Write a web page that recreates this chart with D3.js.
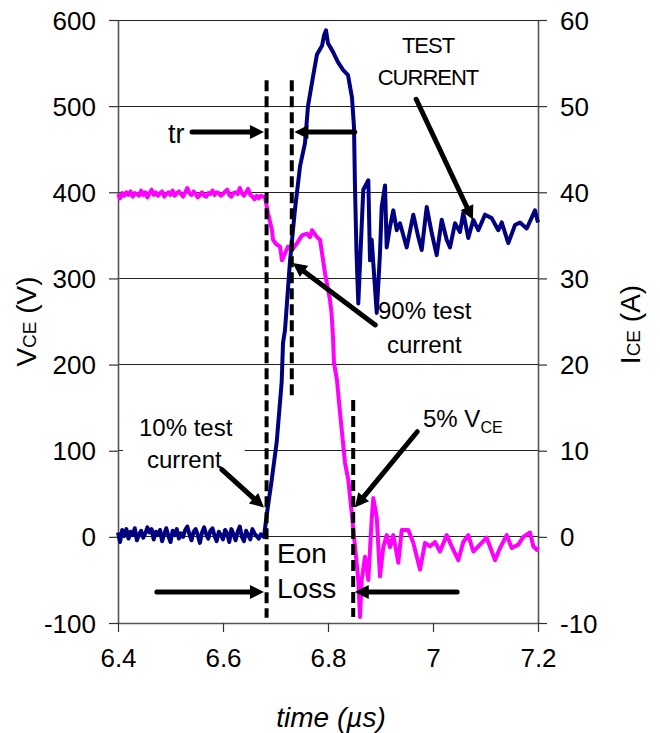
<!DOCTYPE html>
<html><head><meta charset="utf-8">
<script src="https://cdn.jsdelivr.net/npm/d3@7"></script>
<style>
body{margin:0;background:#fff}
svg{display:block}
text{font-family:"Liberation Sans",Arial,Helvetica,sans-serif;fill:#000}
</style>
</head><body>
<svg id="c" width="660" height="733"></svg>
<script>
// ---------- data ----------
const xTicks = [6.4, 6.6, 6.8, 7.0, 7.2];
const xTickLabels = ["6.4", "6.6", "6.8", "7", "7.2"];
const vTicks = [-100, 0, 100, 200, 300, 400, 500, 600];
const iTicks = [-10, 0, 10, 20, 30, 40, 50, 60];

// V_CE (V) vs time (µs)
const vce = [
[6.400,398],[6.404,393],[6.408,399],[6.412,396],[6.416,400],[6.420,397],[6.424,401],[6.428,395],
[6.432,399],[6.436,398],[6.440,396],[6.444,402],[6.448,397],[6.452,400],[6.456,394],[6.460,399],
[6.464,403],[6.468,397],[6.472,400],[6.476,396],[6.480,399],[6.484,401],[6.488,395],[6.492,398],
[6.496,400],[6.500,397],[6.504,402],[6.508,396],[6.512,399],[6.516,401],[6.520,398],[6.524,395],
[6.528,400],[6.532,405],[6.536,399],[6.540,397],[6.544,401],[6.548,398],[6.552,394],[6.556,397],
[6.560,400],[6.564,396],[6.568,395],[6.572,399],[6.576,398],[6.580,402],[6.584,397],[6.588,400],
[6.592,399],[6.596,396],[6.600,398],[6.604,401],[6.608,403],[6.612,397],[6.616,395],[6.620,399],
[6.624,400],[6.628,398],[6.632,405],[6.636,399],[6.640,396],[6.644,400],[6.648,404],[6.652,397],
[6.656,395],[6.660,392],[6.664,396],[6.668,393],[6.672,396],
[6.6800,394],[6.6857,376],[6.6933,356],[6.6952,345],[6.7010,340],[6.7086,337],[6.7124,321],
[6.7181,329],[6.7238,337],[6.7314,333],[6.7410,341],[6.7505,350],[6.7600,352],[6.7657,348],
[6.7695,356],[6.7790,348],[6.7848,345],[6.7943,306],[6.8038,275],[6.8067,260],[6.8095,232],
[6.8114,202],[6.8171,182],[6.8229,144],[6.8324,86],[6.8387,66],[6.8451,28],[6.8514,-11],
[6.8577,-50],[6.8610,-93],[6.8642,-50],[6.8705,-23],[6.8768,-50],[6.8832,20],[6.8863,45],
[6.8928,23],[6.8990,-46],[6.9053,-12],[6.9118,2],[6.9181,-12],[6.9244,2],[6.9339,-30],
[6.9404,8],[6.9530,8],[6.9625,-7],[6.9752,-38],[6.9848,-7],[6.9943,-11],[7.0038,-6],
[7.0133,-17],[7.0261,2],[7.0356,-11],[7.0482,-27],[7.0577,-6],[7.0672,2],[7.0768,-17],
[7.0895,-9],[7.1023,-1],[7.1181,-27],[7.1276,-13],[7.1404,2],[7.1499,-13],[7.1625,-9],
[7.1720,0],[7.1848,5],[7.1911,-11],[7.1975,-15],[7.2000,-12]
];

// I_CE (A) vs time (µs)
const ice = [
[6.400,0.5],[6.404,-0.6],[6.408,0.8],[6.412,0.1],[6.416,0.9],[6.420,-0.2],[6.424,0.6],[6.428,0.2],
[6.432,1.0],[6.436,-0.4],[6.440,0.3],[6.444,0.7],[6.448,-0.1],[6.452,0.4],[6.456,1.1],[6.460,0.5],
[6.464,0.9],[6.468,-0.3],[6.472,0.6],[6.476,0.2],[6.480,0.8],[6.484,-0.5],[6.488,0.3],[6.492,1.0],
[6.496,0.1],[6.500,-0.6],[6.504,0.7],[6.508,0.2],[6.512,0.9],[6.516,-0.2],[6.520,0.4],[6.524,0.0],
[6.528,0.8],[6.532,1.2],[6.536,0.3],[6.540,-0.4],[6.544,0.6],[6.548,0.9],[6.552,0.2],[6.556,-0.7],
[6.560,0.5],[6.564,1.1],[6.568,0.3],[6.572,-0.2],[6.576,0.7],[6.580,1.0],[6.584,0.1],[6.588,-0.5],
[6.592,0.6],[6.596,0.2],[6.600,-0.3],[6.604,0.8],[6.608,0.4],[6.612,-0.6],[6.616,0.9],[6.620,0.3],
[6.624,-0.4],[6.628,0.6],[6.632,1.2],[6.636,0.0],[6.640,-0.5],[6.644,0.7],[6.648,0.2],[6.652,-0.3],
[6.656,0.9],[6.660,0.4],[6.664,0.1],[6.668,-0.2],[6.672,0.3],[6.6781,0.0],
[6.6832,2.5],[6.6928,6.6],[6.7023,11],[6.7118,18],[6.7143,22.5],[6.7181,24],[6.7276,32],
[6.7371,38],[6.7467,43],[6.7562,45.7],[6.7619,50],[6.7714,53.4],[6.7790,56],[6.7886,57],
[6.7924,58.2],[6.7962,58.8],[6.8000,57.3],[6.8095,56.3],[6.8190,55.1],[6.8286,54.2],[6.8381,53.6],
[6.8457,51],[6.8495,47.6],[6.8514,40.6],[6.8543,33],[6.8577,27.1],[6.8672,40.3],[6.8768,41.4],
[6.8800,32.1],[6.8832,34.5],[6.8928,26],[6.8990,32.9],[6.9023,38.3],[6.9086,40.8],[6.9118,33.6],
[6.9181,36],[6.9244,37.9],[6.9309,35.6],[6.9371,36.4],[6.9499,33.6],[6.9625,37.4],[6.9720,34.8],
[6.9785,33.3],[6.9880,38.3],[6.9975,35.3],[7.0070,32.7],[7.0166,36.8],[7.0261,34.5],[7.0324,33.6],
[7.0419,36.4],[7.0514,35.4],[7.0577,37.6],[7.0672,34.7],[7.0768,36.8],[7.0863,35.6],[7.0990,37.4],
[7.1118,37],[7.1244,35.6],[7.1309,36.5],[7.1434,34.1],[7.1562,36.2],[7.1657,36.5],[7.1785,35.8],
[7.1943,37.9],[7.2000,36.5]
];

// annotation markers in data units (time µs, volts)
const markerLines = [
  {t: 6.683, v0: 530, v1: -94},
  {t: 6.731, v0: 530, v1: 161},
  {t: 6.848, v0: 159, v1: -93}
];
const arrows = [
  {t0: 6.541, v0: 470, t1: 6.678, v1: 470},
  {t0: 6.851, v0: 470, t1: 6.736, v1: 470},
  {t0: 6.968, v0: 508, t1: 7.076, v1: 368},
  {t0: 6.890, v0: 246, t1: 6.733, v1: 318},
  {t0: 6.598, v0: 78,  t1: 6.678, v1: 34},
  {t0: 6.970, v0: 122, t1: 6.851, v1: 34},
  {t0: 6.474, v0: -64, t1: 6.678, v1: -64},
  {t0: 7.046, v0: -64, t1: 6.851, v1: -64}
];
const notes = [
  {text: "tr", t: 6.4952, v: 457, size: 27, anchor: "start"},
  {text: "TEST", t: 6.9905, v: 562, size: 22, anchor: "middle", ls: -1},
  {text: "CURRENT", t: 6.9905, v: 524, size: 22, anchor: "middle", ls: -1},
  {text: "90% test", t: 6.8952, v: 253, size: 24, anchor: "start"},
  {text: "current", t: 6.9124, v: 214, size: 24, anchor: "start"},
  {text: "Eon", t: 6.7029, v: -30, size: 28, anchor: "start"},
  {text: "Loss", t: 6.7029, v: -71, size: 28, anchor: "start"}
];
const boxedNotes = [
  {text: "10% test", t: 6.440, v: 117, size: 24},
  {text: "current", t: 6.4552, v: 80, size: 24}
];

// ---------- drawing ----------
const svg = d3.select("#c");
const x = d3.scaleLinear().domain([6.4, 7.2]).range([118, 538]);
const yV = d3.scaleLinear().domain([-100, 600]).range([623, 20]);
const yI = d3.scaleLinear().domain([-10, 60]).range([623, 20]);
const axisColor = "#555";
const plainFmt = d => String(d);

// gridlines
svg.append("g").selectAll("line").data(vTicks).join("line")
  .attr("x1", x(6.4)).attr("x2", x(7.2))
  .attr("y1", d => yV(d)).attr("y2", d => yV(d))
  .attr("stroke", "#222").attr("stroke-width", 1).attr("shape-rendering", "crispEdges");

// axes
const gl = svg.append("g").attr("transform", `translate(${x(6.4)},0)`)
  .call(d3.axisLeft(yV).tickValues(vTicks).tickFormat(plainFmt).tickSize(9).tickPadding(13).tickSizeOuter(0));
const gr = svg.append("g").attr("transform", `translate(${x(7.2)},0)`)
  .call(d3.axisRight(yI).tickValues(iTicks).tickFormat(plainFmt).tickSize(9).tickPadding(13).tickSizeOuter(0));
const gb = svg.append("g").attr("transform", `translate(0,${yV(-100)})`)
  .call(d3.axisBottom(x).tickValues(xTicks).tickFormat((d, i) => xTickLabels[i]).tickSize(9).tickPadding(17).tickSizeOuter(0));
[gl, gr, gb].forEach(g => {
  g.select(".domain").attr("stroke", axisColor).attr("stroke-width", 1.6);
  g.selectAll(".tick line").attr("stroke", "#333").attr("stroke-width", 1.2);
  g.selectAll(".tick text").attr("font-size", 26).attr("font-family", '"Liberation Sans",Arial,sans-serif').attr("fill", "#000");
});
gl.selectAll(".tick text").attr("dy", "0.35em");
gr.selectAll(".tick text").attr("dy", "0.35em");

// axis titles
const tl = svg.append("text").attr("transform", `translate(36,${(yV(600)+yV(-100))/2}) rotate(-90)`)
  .attr("text-anchor", "middle").attr("font-size", 28);
tl.append("tspan").text("V");
tl.append("tspan").attr("font-size", 19).text("CE");
tl.append("tspan").text(" (V)");
const tr = svg.append("text").attr("transform", `translate(640,${(yV(600)+yV(-100))/2 + 3}) rotate(-90)`)
  .attr("text-anchor", "middle").attr("font-size", 28);
tr.append("tspan").text("I");
tr.append("tspan").attr("font-size", 19).text("CE");
tr.append("tspan").text(" (A)");
svg.append("text").attr("x", (x(6.4)+x(7.2))/2 + 3).attr("y", 727)
  .attr("text-anchor", "middle").attr("font-size", 28).attr("font-style", "italic").text("time (µs)");

// white boxed label (covers grid)
const boxG = svg.append("g");
boxG.selectAll("text").data(boxedNotes).join("text")
  .attr("x", d => x(d.t)).attr("y", d => yV(d.v)).attr("font-size", d => d.size).text(d => d.text);
const bb = boxG.node().getBBox();
boxG.insert("rect", "text").attr("x", bb.x - 16).attr("y", bb.y - 2)
  .attr("width", bb.width + 28).attr("height", bb.height + 4).attr("fill", "#fff");

// series
const lineV = d3.line().x(d => x(d[0])).y(d => yV(d[1]));
const lineI = d3.line().x(d => x(d[0])).y(d => yI(d[1]));
svg.append("path").datum(vce).attr("d", lineV).attr("fill", "none")
  .attr("stroke", "#ff00ff").attr("stroke-width", 4).attr("stroke-linejoin", "round");
svg.append("path").datum(ice).attr("d", lineI).attr("fill", "none")
  .attr("stroke", "#000080").attr("stroke-width", 4).attr("stroke-linejoin", "round");

// dashed markers
svg.append("g").selectAll("line").data(markerLines).join("line")
  .attr("x1", d => x(d.t)).attr("x2", d => x(d.t))
  .attr("y1", d => yV(d.v0)).attr("y2", d => yV(d.v1))
  .attr("stroke", "#000").attr("stroke-width", 4).attr("stroke-dasharray", "11,5");

// arrows
const ag = svg.append("g");
arrows.forEach(a => {
  const x0 = x(a.t0), y0 = yV(a.v0), x1 = x(a.t1), y1 = yV(a.v1);
  const ang = Math.atan2(y1 - y0, x1 - x0);
  const L = 14, W = 7;
  const bx = x1 - L * Math.cos(ang), by = y1 - L * Math.sin(ang);
  ag.append("line").attr("x1", x0).attr("y1", y0).attr("x2", bx + 2*Math.cos(ang)).attr("y2", by + 2*Math.sin(ang))
    .attr("stroke", "#000").attr("stroke-width", 5).attr("stroke-linecap", "round");
  const px = -Math.sin(ang), py = Math.cos(ang);
  ag.append("path").attr("d",
    `M${x1},${y1}L${bx + W*px},${by + W*py}L${bx - W*px},${by - W*py}Z`).attr("fill", "#000");
});

// notes
svg.append("g").selectAll("text").data(notes).join("text")
  .attr("x", d => x(d.t)).attr("y", d => yV(d.v))
  .attr("font-size", d => d.size).attr("text-anchor", d => d.anchor)
  .attr("letter-spacing", d => d.ls || 0).text(d => d.text);
const vn = svg.append("text").attr("x", x(6.981)).attr("y", yV(128)).attr("font-size", 24);
vn.append("tspan").text("5% V");
vn.append("tspan").attr("font-size", 16).attr("dy", 6).text("CE");
</script>
</body></html>
